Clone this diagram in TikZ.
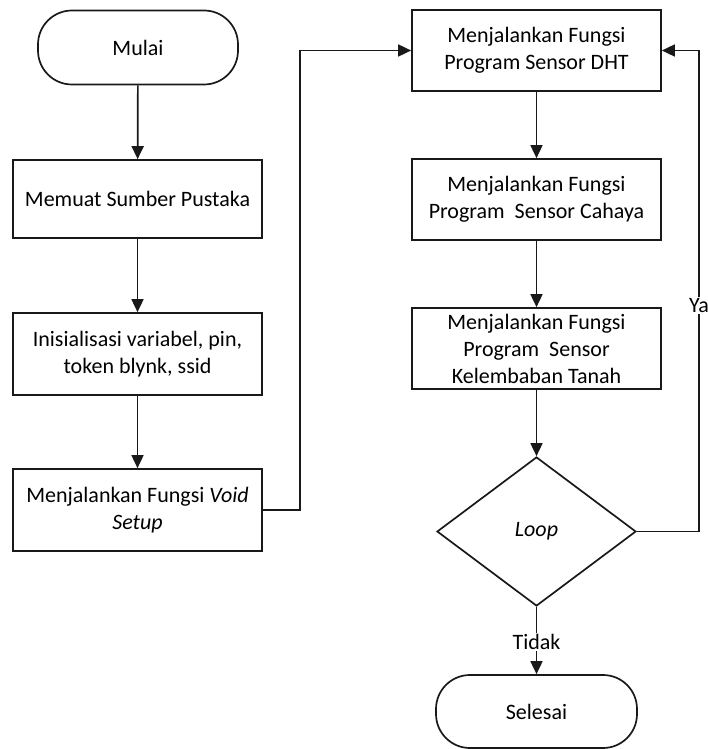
\documentclass[tikz,border=0pt]{standalone}
\usepackage{fontspec}
\setmainfont{Carlito}
\usetikzlibrary{shapes.geometric,arrows.meta}
\begin{document}
\begin{tikzpicture}[x=1pt,y=1pt,
  base/.style={draw=black!90,line width=1.7pt,font=\fontsize{22}{27}\selectfont,align=center,inner sep=0pt},
  procbox/.style={base,rectangle,minimum width=249pt,minimum height=80pt},
  termbox/.style={base,rectangle,rounded corners=34pt,minimum width=200pt,minimum height=74pt},
  decbox/.style={base,diamond,minimum width=199pt,minimum height=149pt},
  conn/.style={line width=1.7pt,draw=black!90,-{Triangle[length=13pt,width=12pt]}},
  lbl/.style={fill=white,inner sep=1.5pt,font=\fontsize{22}{27}\selectfont}]
\useasboundingbox (0,0) rectangle (708,-749);
\node[termbox] (mulai) at (138,-47.5) {Mulai};
\node[procbox,minimum height=78pt] (memuat) at (137.5,-199) {Memuat Sumber Pustaka};
\node[procbox,minimum height=82pt] (init) at (137.5,-354) {Inisialisasi variabel, pin,\\token blynk, ssid};
\node[procbox,minimum height=82pt] (voids) at (137.5,-510) {Menjalankan Fungsi \textit{Void}\\\textit{Setup}};
\node[procbox,minimum height=81pt] (dht) at (536.5,-50.5) {Menjalankan Fungsi\\Program Sensor DHT};
\node[procbox,minimum height=81pt] (cahaya) at (536.5,-199.5) {Menjalankan Fungsi\\Program~ Sensor Cahaya};
\node[procbox,minimum height=81pt] (kelem) at (536.5,-348.5) {Menjalankan Fungsi\\Program~ Sensor\\Kelembaban Tanah};
\node[decbox] (loop) at (536.5,-531.5) {\textit{Loop}};
\node[termbox,minimum width=201pt,minimum height=73pt] (selesai) at (536.5,-711.5) {Selesai};
\draw[conn] (mulai) -- (memuat);
\draw[conn] (memuat) -- (init);
\draw[conn] (init) -- (voids);
\draw[conn] (voids.east) -- ++(37,0) |- (dht.west);
\draw[conn] (dht) -- (cahaya);
\draw[conn] (cahaya) -- (kelem);
\draw[conn] (kelem) -- (loop);
\draw[conn] (loop.south) -- node[lbl,pos=0.52] (tidak) {Tidak} (selesai.north);
\coordinate (yc) at (699,-531.5);
\draw[conn] (loop.east) -- (yc) |- node[lbl,pos=0.235] (ya) {Ya} (dht.east);
\end{tikzpicture}
\end{document}
